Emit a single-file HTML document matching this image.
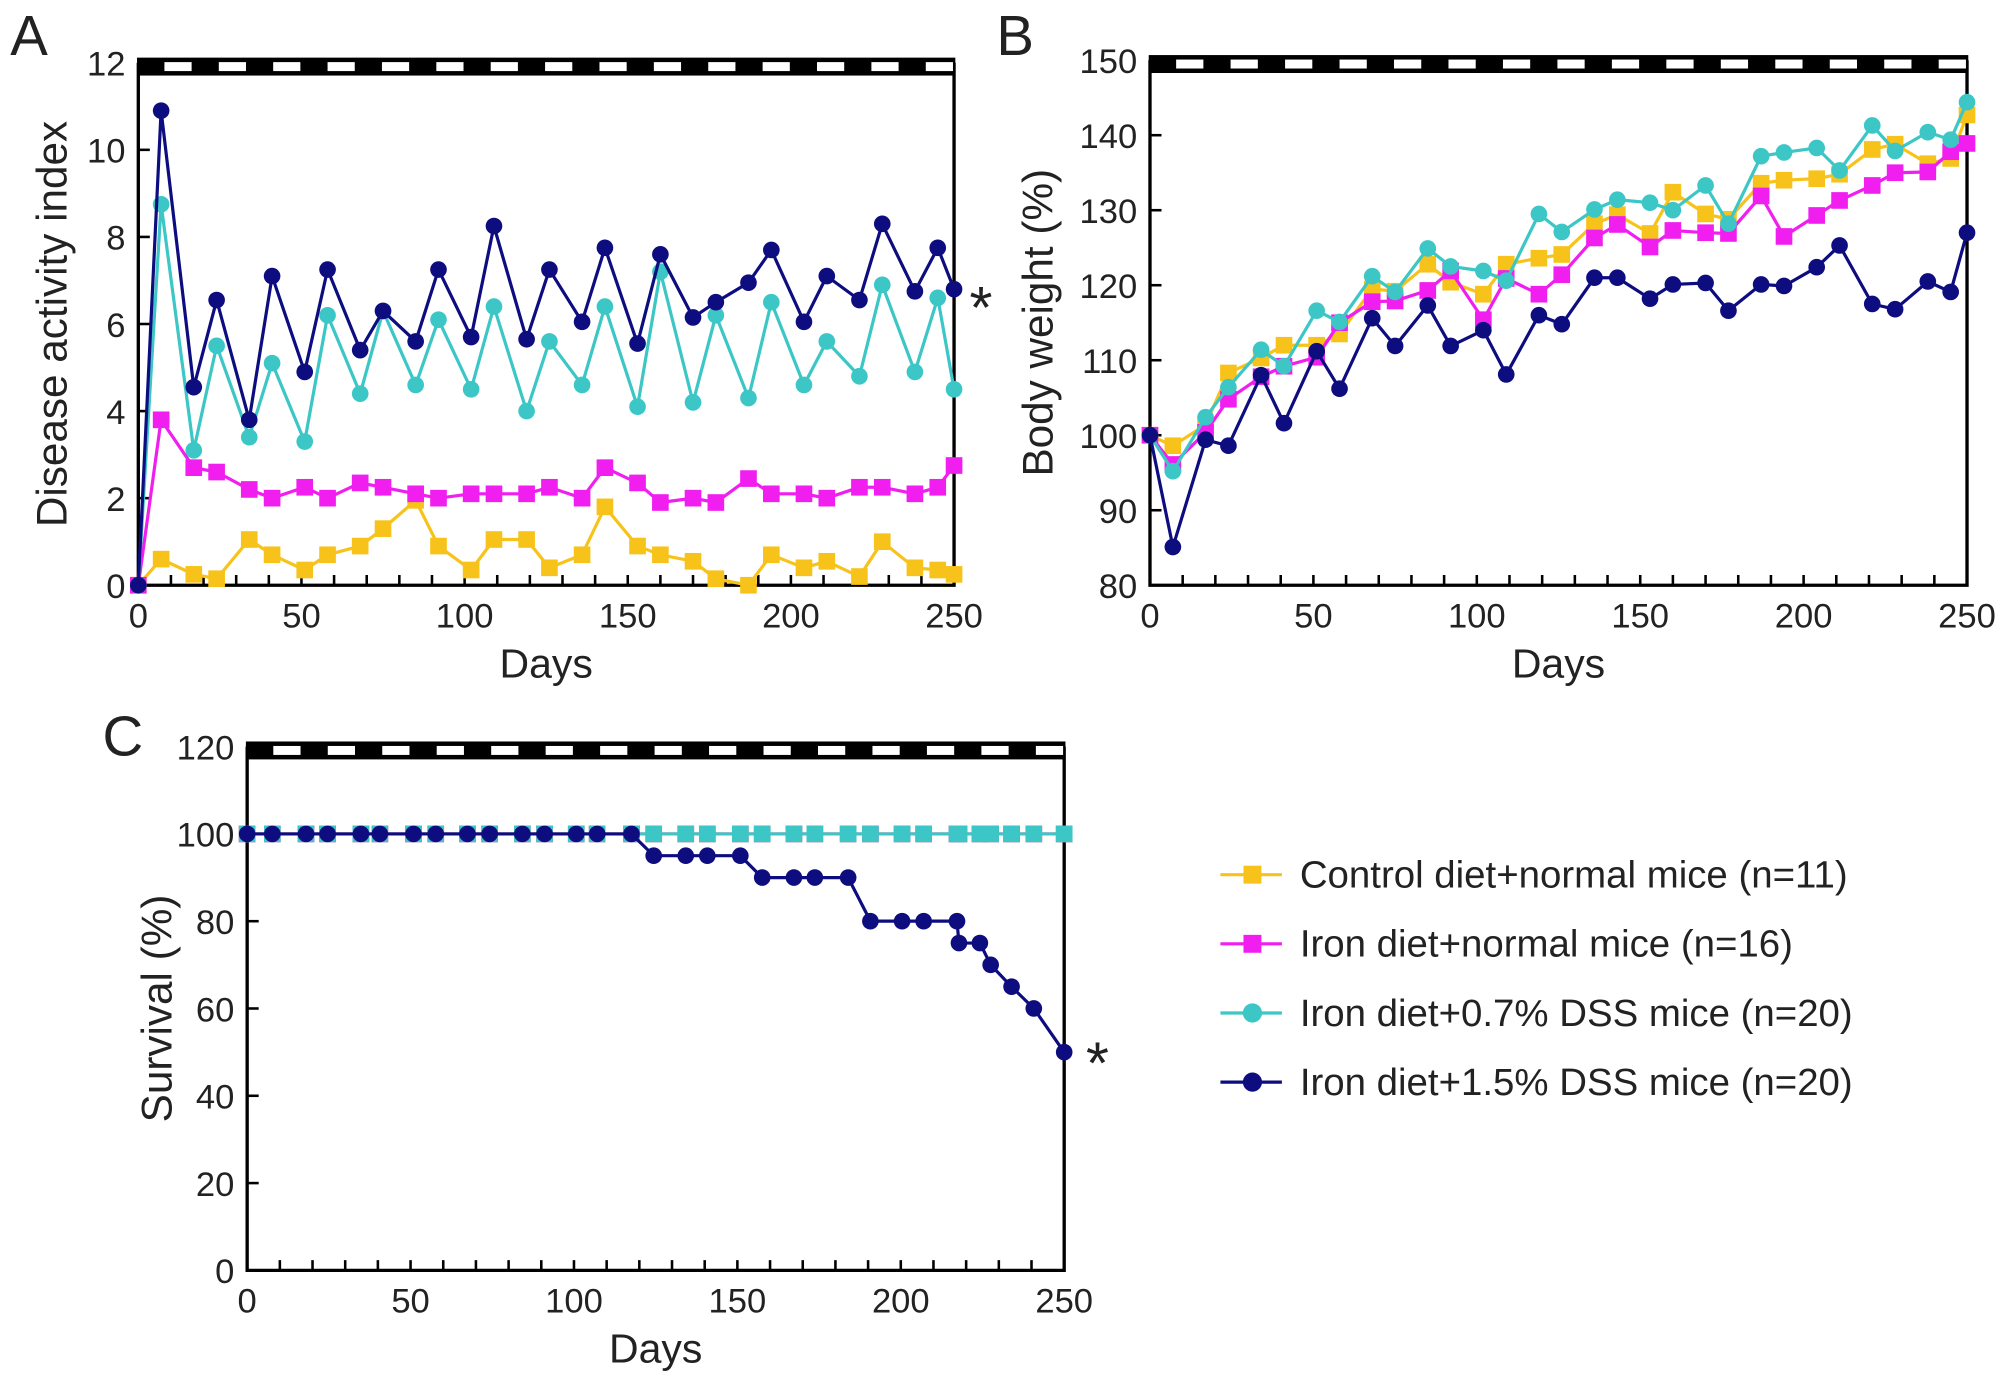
<!DOCTYPE html>
<html><head><meta charset="utf-8"><style>
html,body{margin:0;padding:0;background:#fff}
svg{display:block}
text{font-family:"Liberation Sans",Arial,sans-serif;fill:#222}
.tick{font-family:"Liberation Sans Narrow","Liberation Sans",sans-serif;font-size:27px}
</style></head><body>
<svg id="fig" width="2008" height="1380" viewBox="0 0 1568 1077.6" xmlns="http://www.w3.org/2000/svg"></svg>
<script>
// ---------- data ----------
const daysAB = [0,7,17,24,34,41,51,58,68,75,85,92,102,109,119,126,136,143,153,160,170,177,187,194,204,211,221,228,238,245,250];
const daiControl = [0,0.6,0.25,0.15,1.05,0.7,0.35,0.7,0.9,1.3,1.95,0.9,0.35,1.05,1.05,0.4,0.7,1.8,0.9,0.7,0.55,0.15,0.0,0.7,0.4,0.55,0.2,1.0,0.4,0.35,0.25];
const daiIron = [0,3.8,2.7,2.6,2.2,2.0,2.25,2.0,2.35,2.25,2.1,2.0,2.1,2.1,2.1,2.25,2.0,2.7,2.35,1.9,2.0,1.9,2.45,2.1,2.1,2.0,2.25,2.25,2.1,2.25,2.75];
const daiDss07 = [0,8.75,3.1,5.5,3.4,5.1,3.3,6.2,4.4,6.3,4.6,6.1,4.5,6.4,4.0,5.6,4.6,6.4,4.1,7.2,4.2,6.2,4.3,6.5,4.6,5.6,4.8,6.9,4.9,6.6,4.5];
const daiDss15 = [0,10.9,4.55,6.55,3.8,7.1,4.9,7.25,5.4,6.3,5.6,7.25,5.7,8.25,5.65,7.25,6.05,7.75,5.55,7.6,6.15,6.5,6.95,7.7,6.05,7.1,6.55,8.3,6.75,7.75,6.8];
const bwControl = [100,98.6,101.4,108.3,110.3,112,112,113.5,119.5,119.2,122.8,120.4,118.8,122.8,123.6,124.1,128.2,129.4,126.9,132.4,129.5,128.8,133.6,134,134.2,134.8,138.1,138.8,136.2,136.9,142.7];
const bwIron = [100,96.1,100.4,104.8,107.8,109.2,110.4,115,117.8,117.9,119.3,121.9,115.4,120.9,118.8,121.4,126.3,128.1,125.1,127.3,127,126.9,131.9,126.5,129.3,131.3,133.3,135,135.1,137.8,138.9];
const bwDss07 = [100,95.2,102.4,106.4,111.4,109.2,116.6,115.1,121.2,119.1,124.9,122.5,121.9,120.6,129.5,127.1,130.1,131.4,131,130,133.3,128.2,137.2,137.7,138.3,135.3,141.3,137.9,140.4,139.4,144.4];
const bwDss15 = [100,85.1,99.4,98.6,108,101.6,111.2,106.2,115.6,111.9,117.3,111.9,114,108.1,116,114.8,121,121,118.2,120.1,120.3,116.6,120.1,119.9,122.4,125.3,117.5,116.8,120.5,119.1,127];
const daysC = [0,7.7,18,24.6,34.8,40.6,50.9,57.7,67.4,74.2,84.2,91,100.7,107.1,117.6,124.4,134.2,140.8,150.9,157.6,167.3,173.7,183.9,190.7,200.4,207,217.2,217.8,224.2,227.5,233.9,240.7,250];
const survControl = daysC.map(()=>100);
const survDss15 = [100,100,100,100,100,100,100,100,100,100,100,100,100,100,100,95,95,95,95,90,90,90,90,80,80,80,80,75,75,70,65,60,50];
const xTicks = [0,50,100,150,200,250];
const ticksA = [0,2,4,6,8,10,12];
const ticksB = [80,90,100,110,120,130,140,150];
const ticksC = [0,20,40,60,80,100,120];
const legendLabels = ["Control diet+normal mice (n=11)","Iron diet+normal mice (n=16)","Iron diet+0.7% DSS mice (n=20)","Iron diet+1.5% DSS mice (n=20)"];

const COL = {ctl:"#f7c31a", iron:"#f01ff0", d07:"#3cc6c6", d15:"#0d0d80"};
const NS="http://www.w3.org/2000/svg";
const svg=document.getElementById('fig');
function el(tag,attrs,parent){const e=document.createElementNS(NS,tag);for(const k in attrs)e.setAttribute(k,attrs[k]);(parent||svg).appendChild(e);return e;}
function txt(s,attrs,parent){const t=el('text',attrs,parent);t.textContent=s;return t;}

function panel(cfg){
  const g=el('g',{});
  
  
  const X=d=>cfg.x0+(cfg.x1-cfg.x0)*d/250;
  const Y=v=>cfg.y0+(cfg.y1-cfg.y0)*(v-cfg.vmin)/(cfg.vmax-cfg.vmin);
  const fr=el('path',{d:`M${cfg.x0},${cfg.y1} V${cfg.y0} H${cfg.x1} V${cfg.y1}`,fill:'none',stroke:'#000','stroke-width':2.6},g);
  
  
  const band=el('rect',{x:cfg.x0-1,y:cfg.y1-4,width:cfg.x1-cfg.x0+2,height:14,fill:'#000'},g);
  
  
  const per=(cfg.x1-cfg.x0)/15;
  for(let i=0;i<15;i++){
    const r=el('rect',{x:cfg.x0+per*(i+0.48),y:cfg.y1-0.5,width:per*0.5,height:7,fill:'#fff'},g);
    
    
  }
  for(let d=10;d<250;d+=10){el('line',{x1:X(d),x2:X(d),y1:cfg.y0,y2:cfg.y0-8,stroke:'#000','stroke-width':2},g);}
  xTicks.forEach(d=>{
    const t=txt(String(d),{x:X(d),y:cfg.y0+33,'text-anchor':'middle',class:'tick'},g);
    
    
  });
  cfg.yt.forEach(v=>{
    el('line',{x1:cfg.x0,x2:cfg.x0+9,y1:Y(v),y2:Y(v),stroke:'#000','stroke-width':2},g);
    const t=txt(String(v),{x:cfg.x0-10,y:Y(v)+10,'text-anchor':'end',class:'tick'},g);
    
    
  });
  const xt=txt('Days',{x:(cfg.x0+cfg.x1)/2,y:cfg.y0+72,'text-anchor':'middle','font-size':32},g);
  
  
  const yt=txt(cfg.ytitle,{x:0,y:0,'text-anchor':'middle','font-size':33,transform:`translate(${cfg.ytx},${(cfg.y0+cfg.y1)/2}) rotate(-90)`},g);
  
  
  const pl=txt(cfg.letter,{x:cfg.lx,y:cfg.ly,'font-size':44},g);
  
  
  cfg.series.forEach(s=>{
    const sg=el('g',{},g);
    
    
    const pts=s.vals.map((v,i)=>X(s.days[i]).toFixed(1)+','+Y(v).toFixed(1)).join(' ');
    const pl=el('polyline',{points:pts,fill:'none',stroke:s.c,'stroke-width':2.5},sg);
    
    
    s.vals.forEach((v,i)=>{
      let m;
      if(s.sq) m=el('rect',{x:X(s.days[i])-6.5,y:Y(v)-6.5,width:13,height:13,fill:s.c},sg);
      else m=el('circle',{cx:X(s.days[i]),cy:Y(v),r:6.5,fill:s.c},sg);
      
      
    });
  });
  if(cfg.star){
    const st=txt('*',{x:cfg.star[0],y:cfg.star[1],'font-size':46,'text-anchor':'middle'},g);
    
    
  }
}

panel({name:'panel-a-disease-activity',x0:108,x1:745,y0:457,y1:49,vmin:0,vmax:12,yt:ticksA,ytitle:'Disease activity index',ytx:52,letter:'A',lx:8,ly:43,star:[766,256],
  series:[{name:'series-control',days:daysAB,vals:daiControl,c:COL.ctl,sq:1},{name:'series-iron',days:daysAB,vals:daiIron,c:COL.iron,sq:1},{name:'series-dss-0-7',days:daysAB,vals:daiDss07,c:COL.d07},{name:'series-dss-1-5',days:daysAB,vals:daiDss15,c:COL.d15}]});
panel({name:'panel-b-body-weight',x0:898,x1:1536,y0:457,y1:47,vmin:80,vmax:150,yt:ticksB,ytitle:'Body weight (%)',ytx:822,letter:'B',lx:778,ly:43,
  series:[{name:'series-control',days:daysAB,vals:bwControl,c:COL.ctl,sq:1},{name:'series-iron',days:daysAB,vals:bwIron,c:COL.iron,sq:1},{name:'series-dss-0-7',days:daysAB,vals:bwDss07,c:COL.d07},{name:'series-dss-1-5',days:daysAB,vals:bwDss15,c:COL.d15}]});
panel({name:'panel-c-survival',x0:193,x1:831,y0:992,y1:583,vmin:0,vmax:120,yt:ticksC,ytitle:'Survival (%)',ytx:134,letter:'C',lx:80,ly:590,star:[857,846],
  series:[{name:'series-control',days:daysC,vals:survControl,c:COL.ctl,sq:1},{name:'series-iron',days:daysC,vals:survControl,c:COL.iron,sq:1},{name:'series-dss-0-7',days:daysC,vals:survControl,c:COL.d07,sq:1},{name:'series-dss-1-5',days:daysC,vals:survDss15,c:COL.d15}]});

const lg=el('g',{});


const lc=[COL.ctl,COL.iron,COL.d07,COL.d15];
legendLabels.forEach((s,i)=>{
  const y=683+i*54;
  const eg=el('g',{},lg);
  
  
  el('line',{x1:953,x2:1001,y1:y,y2:y,stroke:lc[i],'stroke-width':2.5},eg);
  if(i<2) el('rect',{x:971,y:y-7,width:14,height:14,fill:lc[i]},eg);
  else el('circle',{cx:978,cy:y,r:7.5,fill:lc[i]},eg);
  txt(s,{x:1015,y:y+10,'font-size':30},eg);
});
</script>
</body></html>
